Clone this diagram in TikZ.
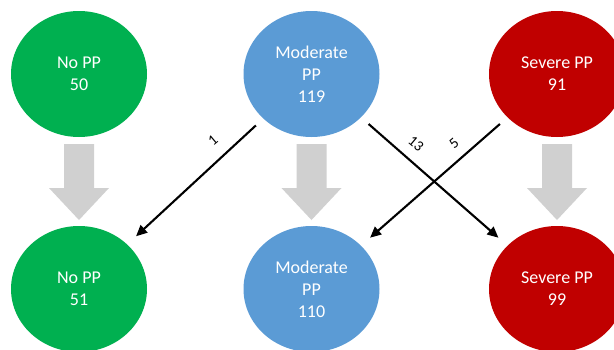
\documentclass[tikz,border=0pt]{standalone}
\usepackage{fontspec}
\setmainfont{Carlito}
\usetikzlibrary{shapes.geometric,arrows.meta}
\definecolor{ppgreen}{HTML}{00B050}
\definecolor{ppblue}{HTML}{5B9BD5}
\definecolor{ppred}{HTML}{C00000}
\definecolor{ppgray}{HTML}{D0D0D0}
\tikzset{
  bubble/.style={ellipse, minimum width=136pt, minimum height=126pt, inner sep=0pt,
    text=white, align=center, font=\fontsize{18}{22}\selectfont},
  nopp/.style={bubble, fill=ppgreen},
  modpp/.style={bubble, fill=ppblue},
  sevpp/.style={bubble, fill=ppred},
  flow/.style={line width=2.1pt, -{Triangle[length=11pt,width=10pt]}, shorten <=10pt, shorten >=12pt},
  flowlabel/.style={font=\fontsize{15}{17}\selectfont, inner sep=0pt},
  grayarrow/.pic={\fill[ppgray] (-15,0) -- (15,0) -- (15,44) -- (30,44) -- (0,76) -- (-30,44) -- (-15,44) -- cycle;}
}
\begin{document}
\begin{tikzpicture}[x=1pt, y=-1pt]
\useasboundingbox (0,0) rectangle (614,349);
\clip (0,0) rectangle (614,349);
\fill[white] (0,0) rectangle (614,349);

\node[nopp]  (nt) at (79,74)    {No PP\\50};
\node[modpp] (mt) at (311.5,74) {Moderate\\PP\\119};
\node[sevpp] (st) at (557,74)   {Severe PP\\91};

\node[nopp]  (nb) at (79,289)    {No PP\\51};
\node[modpp] (mb) at (311.5,289) {Moderate\\PP\\110};
\node[sevpp] (sb) at (557,289)   {Severe PP\\99};

\pic at (79,144) {grayarrow};
\pic at (311.5,144) {grayarrow};
\pic at (557,144) {grayarrow};

\draw[flow] (mt) -- (nb);
\draw[flow] (mt) -- (sb);
\draw[flow] (st) -- (mb);

\node[flowlabel, rotate=40]  (l1)  at (213,140) {1};
\node[flowlabel, rotate=-40] (l13) at (416,144) {13};
\node[flowlabel, rotate=40]  (l5)  at (454,143) {5};
\end{tikzpicture}
\end{document}
